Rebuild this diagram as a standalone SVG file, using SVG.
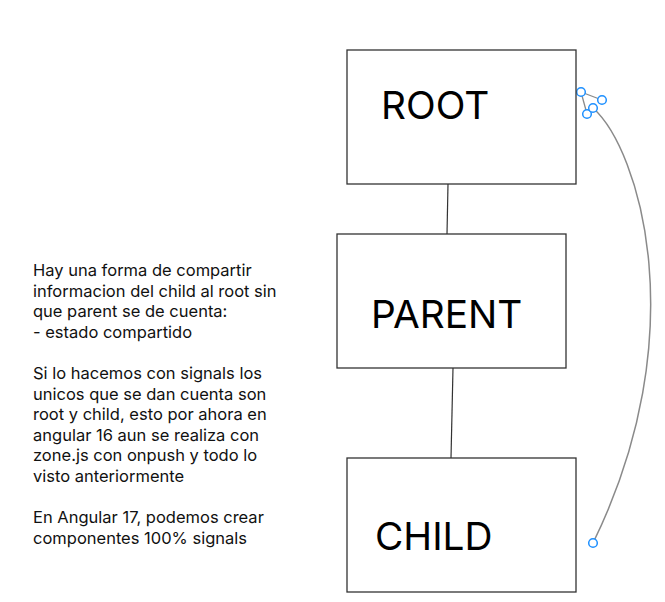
<svg xmlns="http://www.w3.org/2000/svg" width="665" height="602" viewBox="0 0 665 602">
<style>
.box{fill:#fff;stroke:#333;stroke-width:1.3}
.lbl{font-family:Inter,"Noto Sans",sans-serif;font-size:38.8px;fill:#000}
.note{font-family:Inter,"Noto Sans",sans-serif;font-size:16.5px;fill:#111}
.edge{fill:none;stroke:#333;stroke-width:1.2}
.curve{fill:none;stroke:#8a8a8a;stroke-width:1.5}
.hl{fill:none;stroke:#8a8a8a;stroke-width:1.3}
.h{fill:#fff;stroke:#1e90ff;stroke-width:1.5}
</style>
<rect width="665" height="602" fill="#fff"/>
<g id="connectors">
<line class="edge" x1="448" y1="184" x2="447" y2="234"/>
<line class="edge" x1="453" y1="368" x2="451" y2="458"/>
<path class="curve" d="M593,108 C640,150 695,335 593,543"/>
<line class="hl" x1="581" y1="92" x2="602" y2="100"/>
<line class="hl" x1="581" y1="92" x2="587" y2="114"/>
<circle class="h" cx="581" cy="92" r="4.3"/>
<circle class="h" cx="602" cy="100" r="4.3"/>
<circle class="h" cx="587" cy="114" r="4.3"/>
<circle class="h" cx="593" cy="108" r="4.3"/>
<circle class="h" cx="593" cy="543" r="4.3"/>
</g>
<g id="root">
<rect class="box" x="347" y="50" width="229" height="134"/>
<text class="lbl" x="381" y="119">ROOT</text>
</g>
<g id="parent">
<rect class="box" x="337" y="234" width="229" height="134"/>
<text class="lbl" x="371" y="328">PARENT</text>
</g>
<g id="child">
<rect class="box" x="347" y="458" width="229" height="134"/>
<text class="lbl" x="375" y="550">CHILD</text>
</g>
<g id="note">
<text class="note" x="33" y="276">Hay una forma de compartir</text>
<text class="note" x="33" y="296.6">informacion del child al root sin</text>
<text class="note" x="33" y="317.2">que parent se de cuenta:</text>
<text class="note" x="33" y="337.8">- estado compartido</text>
<text class="note" x="33" y="379">Si lo hacemos con signals los</text>
<text class="note" x="33" y="399.6">unicos que se dan cuenta son</text>
<text class="note" x="33" y="420.2">root y child, esto por ahora en</text>
<text class="note" x="33" y="440.8">angular 16 aun se realiza con</text>
<text class="note" x="33" y="461.4">zone.js con onpush y todo lo</text>
<text class="note" x="33" y="482">visto anteriormente</text>
<text class="note" x="33" y="523.2">En Angular 17, podemos crear</text>
<text class="note" x="33" y="543.8">componentes 100% signals</text>
</g>
</svg>
